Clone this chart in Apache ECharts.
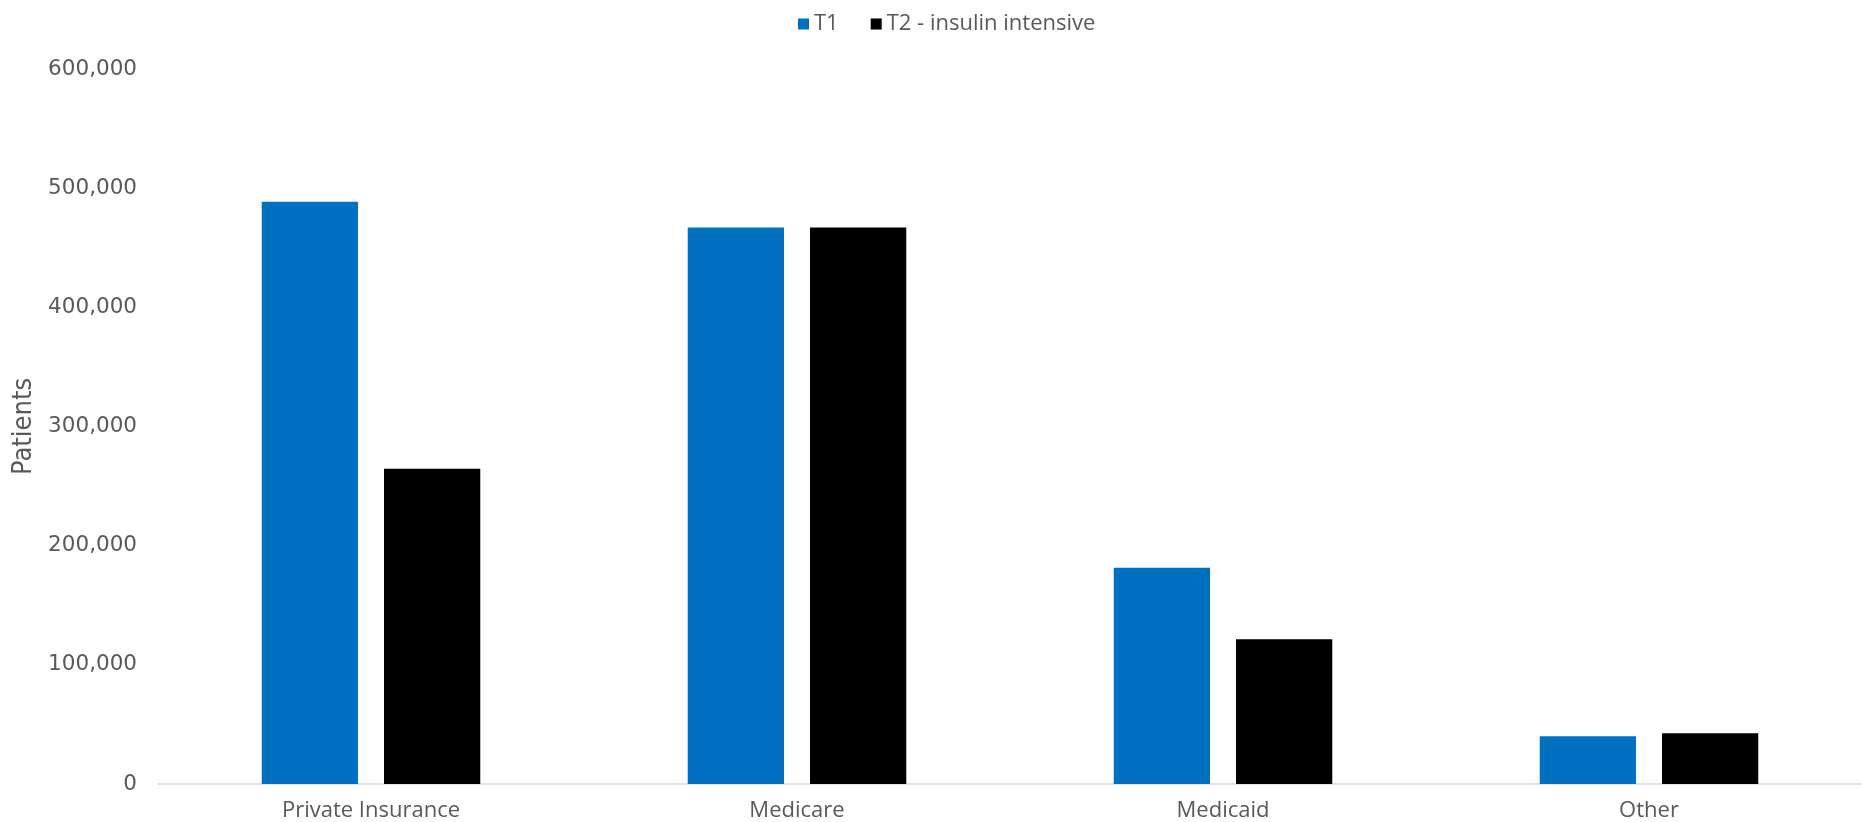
<!DOCTYPE html>
<html>
<head>
<meta charset="utf-8">
<script src="https://cdn.jsdelivr.net/npm/echarts@6/dist/echarts.min.js"></script>
<style>
  html, body { margin: 0; padding: 0; background: #fff; }
  #chart { width: 1862px; height: 822px; }
</style>
</head>
<body>
<div id="chart"></div>
<script>
// Patient counts by payer type
const categories = ['Private Insurance', 'Medicare', 'Medicaid', 'Other'];
const seriesNames = ['T1', 'T2 - insulin intensive'];
const t1Values = [488500, 467000, 181500, 40000];
const t2Values = [264500, 467000, 121500, 42500];
const yTicks = { min: 0, max: 600000, interval: 100000 };

const textColor = '#595959';
const fontFamily = '"Open Sans", Lato, sans-serif';
const numberFamily = '"DejaVu Sans", "Open Sans", sans-serif';
const narrowFamily = '"Liberation Sans Narrow", "DejaVu Sans Condensed", sans-serif';

const chart = echarts.init(document.getElementById('chart'));
chart.setOption({
  animation: false,
  textStyle: { fontFamily: fontFamily, color: textColor },
  legend: {
    data: seriesNames,
    left: 793,
    top: 8,
    itemWidth: 11,
    itemHeight: 11,
    itemGap: 32,
    icon: 'rect',
    textStyle: { fontSize: 22, color: textColor, fontFamily: fontFamily }
  },
  // plot area runs slightly past the right edge of the canvas
  grid: { left: 158, width: 1711, top: 69, bottom: 36, containLabel: false },
  xAxis: {
    type: 'category',
    data: categories,
    axisLine: { lineStyle: { color: '#d9d9d9', width: 1.5 } },
    axisTick: { show: false },
    axisLabel: { fontSize: 22, color: textColor, margin: 16, fontFamily: fontFamily }
  },
  yAxis: {
    type: 'value',
    min: yTicks.min,
    max: yTicks.max,
    interval: yTicks.interval,
    name: 'Patients',
    nameLocation: 'middle',
    nameGap: 118,
    nameTextStyle: { fontSize: 27, color: textColor, fontFamily: narrowFamily },
    axisLine: { show: false },
    axisTick: { show: false },
    splitLine: { show: false },
    axisLabel: {
      fontSize: 21.5,
      color: textColor,
      margin: 21,
      fontFamily: numberFamily,
      formatter: v => v.toLocaleString('en-US')
    }
  },
  series: [
    {
      name: seriesNames[0],
      type: 'bar',
      data: t1Values,
      barWidth: '22.6%',
      barGap: '27%',
      itemStyle: { color: '#0070C0' }
    },
    {
      name: seriesNames[1],
      type: 'bar',
      data: t2Values,
      barWidth: '22.6%',
      itemStyle: { color: '#000000' }
    }
  ]
});
</script>
</body>
</html>
